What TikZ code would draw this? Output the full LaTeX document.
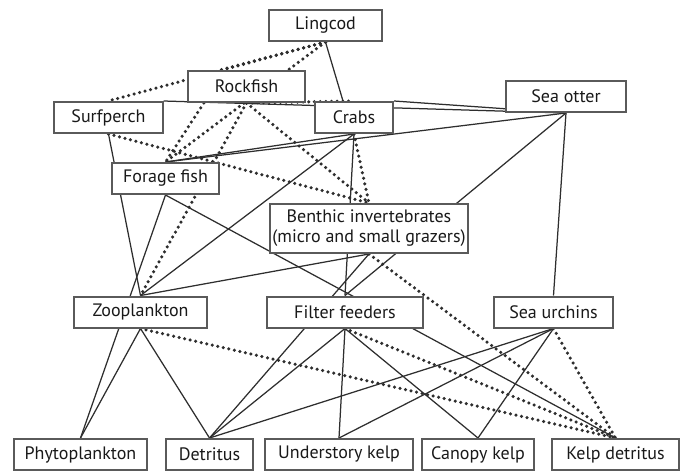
\documentclass[tikz,border=0pt]{standalone}
\usepackage{fontspec}
\setmainfont{PT Sans}
\usetikzlibrary{backgrounds}

\definecolor{boxgray}{HTML}{5A5A5A}
\definecolor{linegray}{HTML}{2E2E2E}

\tikzset{
  box/.style={draw=boxgray, line width=1.2pt, fill=white, minimum height=18.6pt,
              inner sep=1pt, font=\fontsize{10.8}{12}\selectfont, text=black!90},
  link/.style={draw=linegray, line width=0.75pt},
  dotlink/.style={draw=linegray, line width=2.1pt, line cap=round, dash pattern=on 0pt off 3.4pt}
}

\begin{document}
\begin{tikzpicture}[x=0.6pt,y=-0.6pt]
\useasboundingbox (0,0) rectangle (685,471);

% top predators
\node[box, minimum width=68pt] (ling) at (325.5,25.5) {Lingcod};
\node[box, minimum width=70pt] (rock) at (246.5,86.5) {Rockfish};
\node[box, minimum width=65pt] (surf) at (108.5,117.5) {Surfperch};
\node[box, minimum width=47pt] (crabs) at (354,117.5) {Crabs};
\node[box, minimum width=72pt] (otter) at (566,96.5) {Sea otter};
\node[box, minimum width=64pt] (forage) at (165.5,178.5) {Forage fish};
\node[box, minimum width=119pt, minimum height=29.4pt, align=center] (benthic) at (369,228.5)
  {Benthic invertebrates\\(micro and small grazers)};

% middle row
\node[box, minimum width=80pt] (zoo) at (140.5,312) {Zooplankton};
\node[box, minimum width=94pt] (filter) at (345,312) {Filter feeders};
\node[box, minimum width=71pt] (urch) at (553.5,312) {Sea urchins};

% bottom row
\node[box, minimum width=80pt] (phyto) at (80.5,454.5) {Phytoplankton};
\node[box, minimum width=52pt] (detr) at (209.5,454.5) {Detritus};
\node[box, minimum width=89pt] (under) at (339,454.5) {Understory kelp};
\node[box, minimum width=67pt] (canopy) at (478,454.5) {Canopy kelp};
\node[box, minimum width=76pt] (kelp) at (615.5,454.5) {Kelp detritus};

\begin{scope}[on background layer]
% solid links
\draw[link] (ling.south) -- ([xshift=-6.6pt]crabs.north);
\draw[link] (surf.north east) -- (otter.south);
\draw[link] (crabs.north east) -- (otter.south);
\draw[link] (crabs.south) -- (forage.north);
\draw[link] (otter.south) -- (forage.north);
\draw[link] (crabs.south) -- (zoo.north);
\draw[link] (crabs.south) -- (filter.north);
\draw[link] (otter.south) -- (filter.north);
\draw[link] (otter.south) -- (urch.north);
\draw[link] (surf.south) -- (zoo.north);
\draw[link] (forage.south) -- (phyto.north);
\draw[link] (forage.south) -- (kelp.north);
\draw[link] (benthic.south) -- (zoo.north);
\draw[link] (benthic.south) -- (detr.north);
\draw[link] (zoo.south) -- (phyto.north);
\draw[link] (zoo.south) -- (detr.north);
\draw[link] (filter.south) -- (detr.north);
\draw[link] (filter.south) -- (under.north);
\draw[link] (filter.south) -- (canopy.north);
\draw[link] (urch.south) -- (detr.north);
\draw[link] (urch.south) -- (under.north);
\draw[link] (urch.south) -- (canopy.north);

% dotted links
\draw[dotlink] (ling.south) -- (surf.north);
\draw[dotlink] (ling.south) -- ([xshift=-16pt]rock.north);
\draw[dotlink] (ling.south) -- (forage.north);
\draw[dotlink] ([xshift=10pt]rock.south west) -- (forage.north);
\draw[dotlink] (rock.south) -- (zoo.north);
\draw[dotlink] (rock.south) -- (benthic.north);
\draw[dotlink] (rock.south) -- (crabs.north);
\draw[dotlink] (surf.south) -- (benthic.north);
\draw[dotlink] (crabs.south) -- (benthic.north);
\draw[dotlink] (benthic.south) -- (kelp.north);
\draw[dotlink] (zoo.south) -- (kelp.north);
\draw[dotlink] (filter.south) -- (kelp.north);
\draw[dotlink] (urch.south) -- (kelp.north);
\end{scope}
\end{tikzpicture}
\end{document}
